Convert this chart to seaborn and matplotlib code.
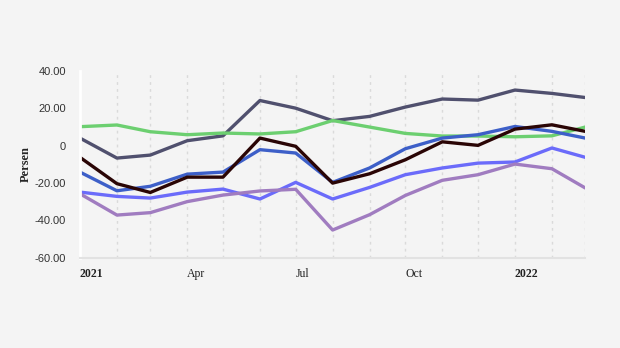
import matplotlib
matplotlib.use("Agg")
import matplotlib.pyplot as plt
import matplotlib.dates as mdates
import seaborn as sns
import pandas as pd
import numpy as np

months = pd.date_range("2021-01-01", "2022-03-01", freq="MS")

s_slate = [4.1, -6.6, -5.0, 2.7, 5.3, 24.2, 20.1, 13.4, 15.7, 20.7, 25.0, 24.4, 29.8, 28.0, 25.8]
s_green = [10.2, 11.1, 7.5, 5.9, 6.8, 6.3, 7.5, 13.5, 10.0, 6.6, 5.2, 5.2, 4.8, 5.3, 10.0]
s_black = [-6.2, -20.3, -25.0, -16.8, -16.8, 4.1, -0.3, -20.0, -15.0, -7.5, 2.1, 0.2, 8.9, 11.2, 7.7]
s_blue = [-14.1, -24.1, -21.7, -15.2, -14.1, -2.1, -3.9, -19.6, -11.9, -1.6, 4.1, 5.9, 10.3, 7.7, 4.1]
s_violet = [-24.8, -27.1, -28.0, -24.8, -23.2, -28.5, -19.6, -28.5, -22.3, -15.5, -11.9, -9.3, -8.7, -1.2, -6.2]
s_purple = [-25.7, -37.1, -35.8, -29.9, -26.4, -24.2, -23.3, -45.1, -36.9, -26.6, -18.5, -15.5, -9.8, -12.3, -22.6]

series = {"s_slate": s_slate, "s_green": s_green, "s_blue": s_blue,
          "s_violet": s_violet, "s_purple": s_purple, "s_black": s_black}
colors = {"s_slate": "#50506e", "s_green": "#6ccf70", "s_blue": "#3d5fc8",
          "s_violet": "#6b6bfa", "s_purple": "#a07cc0", "s_black": "#2a0505"}

y_ticks = [40, 20, 0, -20, -40, -60]
y_labels = ["40.00", "20.00", "0", "-20.00", "-40.00", "-60.00"]
x_tick_dates = pd.to_datetime(["2021-01-01", "2021-04-01", "2021-07-01", "2021-10-01", "2022-01-01"])
x_labels = ["2021", "Apr", "Jul", "Oct", "2022"]

df = pd.concat([pd.DataFrame({"date": months, "value": v, "series": k}) for k, v in series.items()])

sns.set_theme(style="white")
plt.rcParams["font.family"] = ["Liberation Serif", "DejaVu Serif"]

fig = plt.figure(figsize=(6.2, 3.48), dpi=100, facecolor="#f4f4f4")
ax = fig.add_axes([0.129, 0.259, 0.815, 0.537])
ax.set_facecolor("#f4f4f4")

for m in months:
    ax.axvline(m, color="#dadada", lw=1.0, ls=(0, (2, 3)), zorder=0)

sns.lineplot(data=df, x="date", y="value", hue="series", palette=colors,
             linewidth=2.4, legend=False, ax=ax, sort=False)

ax.set_xlim(months[0], months[-1])
ax.set_ylim(-60, 40)
ax.set_yticks(y_ticks)
ax.set_yticklabels(y_labels, fontfamily=["Liberation Sans", "DejaVu Sans"], fontsize=8, color="#333333")
ax.set_xticks(x_tick_dates)
ax.set_xticklabels(x_labels, fontsize=8.5, color="#222222", ha="left")
for lbl, t in zip(ax.get_xticklabels(), x_labels):
    lbl.set_x(lbl.get_position()[0])
    if t in ("2021", "2022"):
        lbl.set_fontweight("bold")
ax.tick_params(axis="x", length=0, pad=7)
ax.tick_params(axis="y", length=4, color="white", width=1.5, pad=6)

ax.set_ylabel("Persen", fontsize=9, fontweight="bold", labelpad=2)
ax.set_xlabel("")

for s in ["top", "right"]:
    ax.spines[s].set_visible(False)
ax.spines["left"].set_color("white")
ax.spines["left"].set_linewidth(2)
ax.spines["bottom"].set_color("#e2e2e2")
ax.spines["bottom"].set_linewidth(1.5)

fig.savefig("out.png", dpi=100, facecolor="#f4f4f4")
